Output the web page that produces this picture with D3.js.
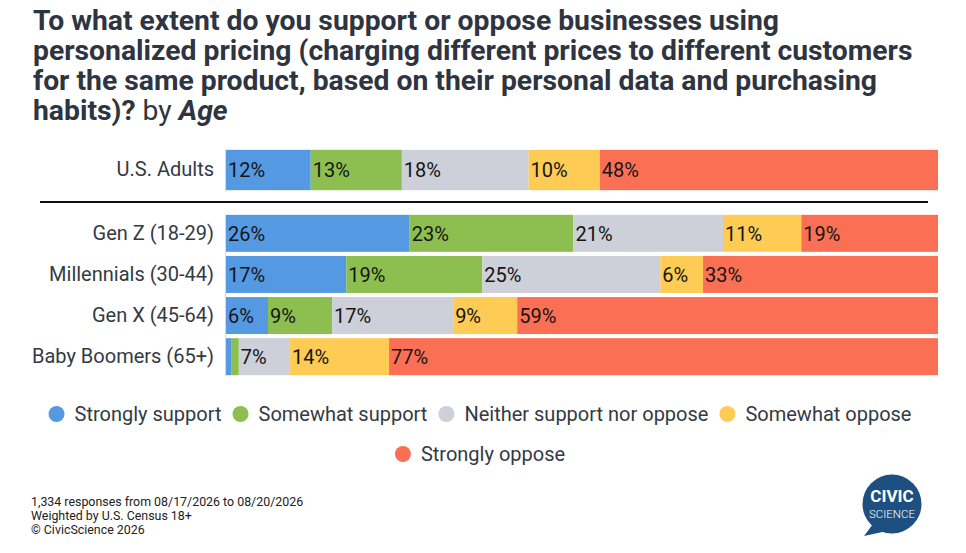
<!DOCTYPE html>
<html>
<head>
<meta charset="utf-8">
<script src="https://cdn.jsdelivr.net/npm/d3@7"></script>
<style>
  body { margin: 0; background: #fff; }
  svg { display: block; font-family: Roboto, "Noto Sans", sans-serif; }
</style>
</head>
<body>
<div id="container"></div>
<script>
var WIDTH = 966;
var HEIGHT = 553;

// data (percent of respondents)
var totalGroup = ["U.S. Adults"];
var ageGroups = ["Gen Z (18-29)", "Millennials (30-44)", "Gen X (45-64)", "Baby Boomers (65+)"];
var responses = ["Strongly support", "Somewhat support", "Neither support nor oppose", "Somewhat oppose", "Strongly oppose"];
var colors = ["#5699e3", "#8cbf50", "#cdd0d8", "#fecb55", "#fb7055"];

var stronglySupport = [11.9, 25.8, 16.9, 5.9, 0.8];
var somewhatSupport = [12.8, 23.0, 19.1, 9.0, 1.0];
var neither = [17.8, 21.0, 25.0, 17.0, 7.2];
var somewhatOppose = [10.0, 11.0, 6.0, 9.0, 13.9];
var stronglyOppose = [47.5, 19.2, 33.0, 59.1, 77.1];

var titleLines = [
  "To what extent do you support or oppose businesses using",
  "personalized pricing (charging different prices to different customers",
  "for the same product, based on their personal data and purchasing"
];
var footnotes = [
  "1,334 responses from 08/17/2026 to 08/20/2026",
  "Weighted by U.S. Census 18+",
  "\u00a9 CivicScience 2026"
];

var series = [stronglySupport, somewhatSupport, neither, somewhatOppose, stronglyOppose];
var groups = totalGroup.concat(ageGroups);
var rows = groups.map(function(g, i){
  var row = { group: g };
  responses.forEach(function(r, j){ row[r] = series[j][i]; });
  return row;
});

var svg = d3.select("#container").append("svg")
  .attr("width", WIDTH)
  .attr("height", HEIGHT);

// title
var title = svg.append("text")
  .attr("x", 33)
  .attr("y", 30)
  .style("font-size", "28.3px")
  .style("font-weight", "bold")
  .style("fill", "#2e3440");
titleLines.forEach(function(line, i){
  title.append("tspan").attr("x", 33).attr("dy", i ? 30 : 0).text(line);
});
var lastLine = title.append("tspan").attr("x", 33).attr("dy", 30);
lastLine.append("tspan").text("habits)? ");
lastLine.append("tspan").style("font-weight", "normal").text("by ");
lastLine.append("tspan").style("font-style", "italic").text("Age");

// scales
var x = d3.scaleLinear()
  .domain([0, 100])
  .range([226, 938]);

var yTop = d3.scaleBand()
  .domain(totalGroup)
  .range([149, 191])
  .padding(0.02);

var yBottom = d3.scaleBand()
  .domain(ageGroups)
  .range([214, 376])
  .paddingInner(0.1)
  .paddingOuter(0.02);

function yPos(g){ return totalGroup.indexOf(g) >= 0 ? yTop(g) : yBottom(g); }
function yBand(g){ return totalGroup.indexOf(g) >= 0 ? yTop.bandwidth() : yBottom.bandwidth(); }

var stack = d3.stack().keys(responses);
var stacked = stack(rows);

var color = d3.scaleOrdinal().domain(responses).range(colors);

// bars
var layers = svg.append("g").selectAll("g")
  .data(stacked)
  .join("g")
  .attr("fill", function(d){ return color(d.key); });

layers.selectAll("rect")
  .data(function(d){ return d; })
  .join("rect")
  .attr("x", function(d){ return x(d[0]); })
  .attr("y", function(d){ return yPos(d.data.group); })
  .attr("width", function(d){ return x(d[1]) - x(d[0]); })
  .attr("height", function(d){ return yBand(d.data.group); });

// value labels
layers.selectAll("text")
  .data(function(d){ return d.filter(function(s){ return s[1] - s[0] >= 3; }); })
  .join("text")
  .attr("x", function(d){ return x(d[0]) + 2; })
  .attr("y", function(d){ return yPos(d.data.group) + yBand(d.data.group) / 2; })
  .attr("dy", "0.36em")
  .style("font-size", "20px")
  .style("fill", "#151515")
  .text(function(d){ return Math.round(d[1] - d[0]) + "%"; });

// left axes
var axisTop = svg.append("g")
  .attr("transform", "translate(" + (x(0) - 1) + ",0)")
  .call(d3.axisLeft(yTop).tickSize(0).tickPadding(11));
var axisBottom = svg.append("g")
  .attr("transform", "translate(" + (x(0) - 1) + ",0)")
  .call(d3.axisLeft(yBottom).tickSize(0).tickPadding(11));

[axisTop, axisBottom].forEach(function(a){
  a.select(".domain").attr("stroke", "#d9d9d9");
  a.selectAll("text")
    .style("font-size", "20px")
    .style("font-family", "Roboto, sans-serif")
    .style("fill", "#333a44");
});

// separator
svg.append("line")
  .attr("x1", 40)
  .attr("x2", 928)
  .attr("y1", 202)
  .attr("y2", 202)
  .attr("stroke", "#111")
  .attr("stroke-width", 2);

// legend
var legendRows = [responses.slice(0, 4), responses.slice(4)];
legendRows.forEach(function(items, r){
  var g = svg.append("g");
  var cx = 0;
  items.forEach(function(name){
    var e = g.append("g");
    e.append("circle").attr("cx", 8).attr("cy", 0).attr("r", 8).attr("fill", color(name));
    var t = e.append("text")
      .attr("x", 26)
      .attr("dy", "0.35em")
      .style("font-size", "20px")
      .style("fill", "#333a44")
      .text(name);
    var w = 26 + t.node().getComputedTextLength();
    e.attr("transform", "translate(" + cx + ",0)");
    cx += w + 11;
  });
  var total = cx - 11;
  g.attr("transform", "translate(" + (480 - total / 2) + "," + (414 + r * 40) + ")");
});

// footnotes
svg.append("g").selectAll("text")
  .data(footnotes)
  .join("text")
  .attr("x", 31)
  .attr("y", function(d, i){ return 506 + i * 14; })
  .style("font-size", "12.4px")
  .style("fill", "#222")
  .text(function(d){ return d; });

// logo
var logo = svg.append("g").attr("transform", "translate(892,504)");
logo.append("path")
  .attr("d", "M-19,20 L-28,32 L-5,27 Z")
  .attr("fill", "#1d4f80");
logo.append("circle").attr("r", 29.5).attr("fill", "#1d4f80");
logo.append("text")
  .attr("text-anchor", "middle")
  .attr("y", -2)
  .style("font-size", "17px")
  .style("font-weight", "bold")
  .style("fill", "#fff")
  .text("CIVIC");
logo.append("text")
  .attr("text-anchor", "middle")
  .attr("y", 14)
  .style("font-size", "11.5px")
  .style("font-weight", "300")
  .style("fill", "#fff")
  .text("SCIENCE");
</script>
</body>
</html>
